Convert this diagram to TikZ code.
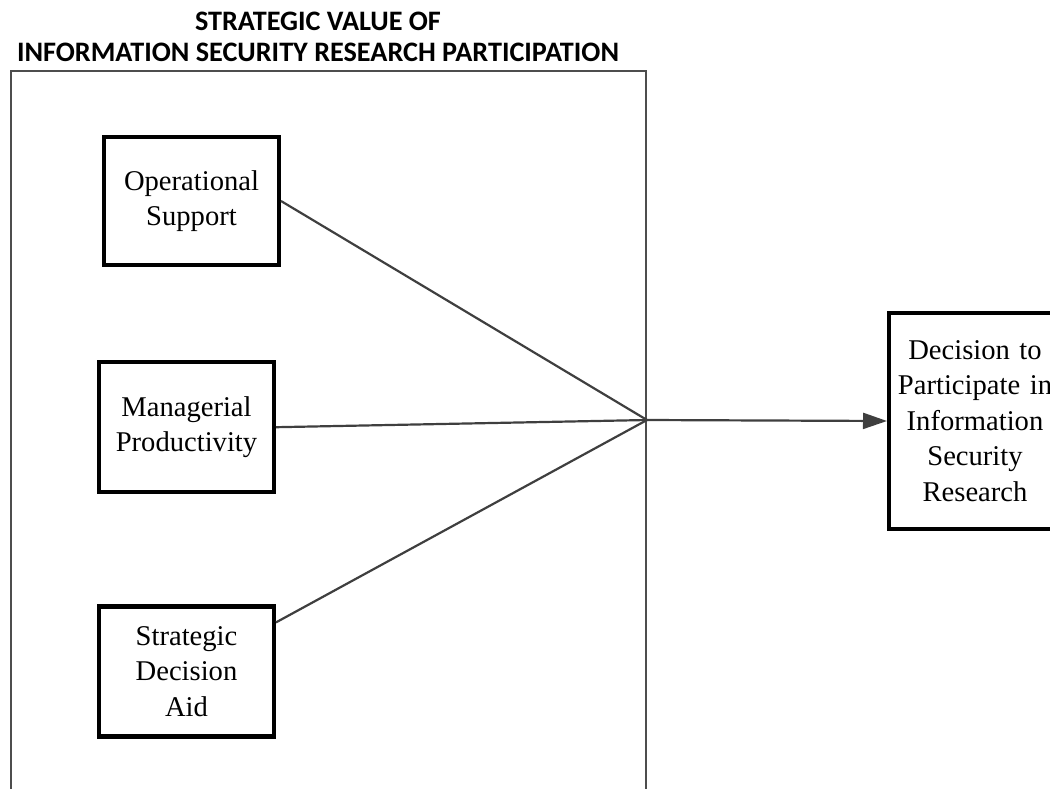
\documentclass[tikz,border=0pt]{standalone}
\usepackage{fontspec}
\setmainfont{Liberation Serif}
\newfontfamily\headfont{Carlito}
\usetikzlibrary{positioning,arrows.meta,calc}
\definecolor{linegrey}{HTML}{3F3F3F}
\definecolor{framegrey}{HTML}{4D4D4D}
\tikzset{
  factor/.style={
    draw=black, line width=2.2pt, fill=white, align=center, inner sep=0pt,
    text width=80pt, minimum width=87.3pt, minimum height=65pt,
    font=\fontsize{14.3}{17.8}\selectfont,
  },
  outcome/.style={factor, minimum width=85.8pt, minimum height=107.8pt},
  link/.style  ={draw=linegrey, line width=1.1pt},
  arrowlink/.style={link, -{Triangle[length=12pt, width=8pt]}},
  % the frame runs off the bottom of the page, so it is cut by the clip
  zone/.style  ={draw=framegrey, line width=1pt, inner sep=0pt,
                 minimum width=317.5pt, minimum height=400pt},
  ztitle/.style={font=\headfont\bfseries\fontsize{14.1}{15.7}\selectfont,
                 align=center, inner sep=0pt},
}

\begin{document}
\begin{tikzpicture}

\useasboundingbox (0,0) rectangle (525pt,-394pt);
\clip (0,0) rectangle (525pt,-394pt);

% ---------------------------------------------------------------- frame
\node[zone, anchor=north west] (frame) at (5pt,-35pt) {};
\node[ztitle] (title) at (159pt,-18.5pt)
  {STRATEGIC VALUE OF\\INFORMATION SECURITY RESEARCH PARTICIPATION};
\coordinate (hub) at (frame.north east |- 0,-210pt);

% ---------------------------------------------------------------- factors
\node[factor, minimum height=63.8pt] (ops) at (95.75pt,-100.5pt)
  {Operational\\Support};
\node[factor, below=46.5pt of ops, xshift=-2.5pt] (mgr)
  {Managerial\\Productivity};
\node[factor, below=55pt of mgr] (sda)
  {Strategic\\Decision\\Aid};

% ---------------------------------------------------------------- outcome
\node[outcome, right=120pt of hub, yshift=-0.5pt] (dec)
  {Decision to\\Participate in\\Information\\Security\\Research};

% ---------------------------------------------------------------- edges
\draw[link] (ops.east) -- (hub);
\draw[link] (mgr.east) -- (hub);
\draw[link] ([yshift=-9pt]sda.north east) -- (hub);
\draw[arrowlink] (hub) -- (dec.west);

\end{tikzpicture}
\end{document}
